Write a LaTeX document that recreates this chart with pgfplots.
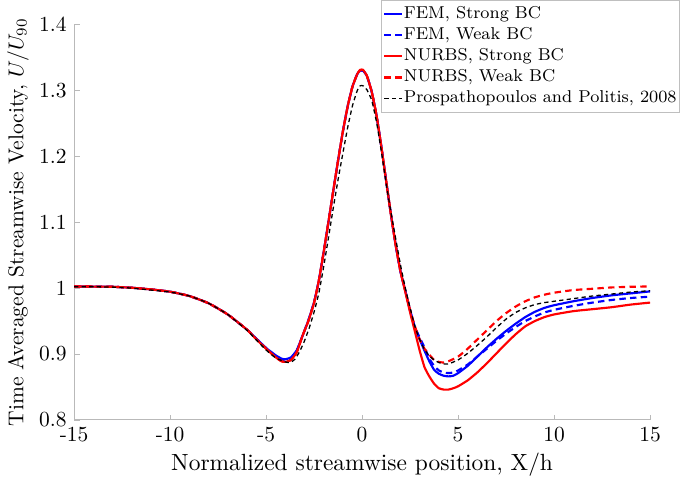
\documentclass[border=0pt]{standalone}
\usepackage{pgfplots}
\pgfplotsset{compat=1.18}

\begin{document}
\begin{tikzpicture}
\begin{axis}[
    scale only axis,
    width=268pt, height=184pt,
    xmin=-15, xmax=15, ymin=0.8, ymax=1.4,
    axis lines=left,
    axis line style={-, gray!55},
    tick style={gray!55},
    tick align=inside,
    major tick length=2.5pt,
    xtick={-15,-10,...,15},
    xticklabels={-15,-10,-5,0,5,10,15},
    ytick={0.8,0.9,...,1.41},
    yticklabels={0.8,0.9,1,1.1,1.2,1.3,1.4},
    xlabel={Normalized streamwise position, X/h},
    ylabel={Time Averaged Streamwise Velocity, $U/U_{90}$},
    xlabel style={font=\fontsize{10.9}{12}\selectfont, yshift=2pt},
    ylabel style={yshift=-2pt},
    legend style={at={(1.052,1.062)}, anchor=north east, draw=gray!50,
        cells={anchor=west}, inner sep=0.8pt, row sep=-1.3pt,
        nodes={inner xsep=0.6pt},
        font=\fontsize{8.0}{9.3}\selectfont},
    legend image code/.code={\draw[#1] (0cm,0cm) -- (0.28cm,0cm);},
]
% FEM, Strong BC
\addplot[blue, line width=1pt, smooth, tension=0.3] coordinates {
(-15,1.0025) (-14,1.0023) (-13,1.002) (-12,1.0005) (-11,0.998) (-10,0.9945)
(-9,0.988) (-8,0.977) (-7,0.960) (-6,0.937) (-5.5,0.923) (-5,0.909)
(-4.5,0.898) (-4.2,0.893) (-4,0.892) (-3.7,0.895) (-3.4,0.906) (-3.1,0.928)
(-2.8,0.951) (-2.5,0.979) (-2.25,1.012) (-2,1.055) (-1.75,1.101) (-1.5,1.148)
(-1.25,1.194) (-1,1.238) (-0.75,1.276) (-0.5,1.306) (-0.25,1.325) (-0.1,1.330)
(0.05,1.330) (0.25,1.322) (0.5,1.298) (0.75,1.262) (1,1.215) (1.25,1.163)
(1.5,1.112) (1.75,1.065) (2,1.025) (2.25,0.996) (2.5,0.966) (2.75,0.940)
(3,0.922) (3.25,0.905) (3.5,0.889) (3.75,0.876) (4,0.870) (4.25,0.867)
(4.5,0.866) (4.75,0.867) (5,0.871) (5.5,0.882) (6,0.896) (6.5,0.910)
(7,0.923) (7.5,0.935) (8,0.946) (8.5,0.956) (9,0.964) (9.5,0.970)
(10,0.974) (11,0.980) (12,0.985) (13,0.989) (14,0.992) (15,0.995)
};
% FEM, Weak BC
\addplot[blue, line width=1pt, dash pattern=on 3pt off 2pt, smooth, tension=0.3] coordinates {
(-15,1.0025) (-14,1.0023) (-13,1.002) (-12,1.0005) (-11,0.998) (-10,0.9945)
(-9,0.988) (-8,0.977) (-7,0.960) (-6,0.937) (-5.5,0.923) (-5,0.909)
(-4.5,0.897) (-4.2,0.892) (-4,0.891) (-3.7,0.894) (-3.4,0.905) (-3.1,0.928)
(-2.8,0.951) (-2.5,0.979) (-2.25,1.012) (-2,1.055) (-1.75,1.101) (-1.5,1.148)
(-1.25,1.194) (-1,1.238) (-0.75,1.276) (-0.5,1.306) (-0.25,1.325) (-0.1,1.330)
(0.05,1.330) (0.25,1.322) (0.5,1.298) (0.75,1.262) (1,1.215) (1.25,1.163)
(1.5,1.112) (1.75,1.065) (2,1.025) (2.25,0.996) (2.5,0.966) (2.75,0.941)
(3,0.925) (3.25,0.910) (3.5,0.893) (3.75,0.882) (4,0.875) (4.25,0.872)
(4.5,0.871) (4.75,0.872) (5,0.875) (5.5,0.884) (6,0.896) (6.5,0.908)
(7,0.920) (7.5,0.931) (8,0.941) (8.5,0.950) (9,0.957) (9.5,0.963)
(10,0.967) (11,0.973) (12,0.978) (13,0.982) (14,0.985) (15,0.987)
};
% NURBS, Strong BC
\addplot[red, line width=1pt, smooth, tension=0.3] coordinates {
(-15,1.0025) (-14,1.0023) (-13,1.002) (-12,1.0005) (-11,0.998) (-10,0.9945)
(-9,0.988) (-8,0.977) (-7,0.960) (-6,0.937) (-5.5,0.922) (-5,0.908)
(-4.5,0.895) (-4.2,0.889) (-4,0.888) (-3.7,0.891) (-3.4,0.903) (-3.1,0.928)
(-2.8,0.950) (-2.5,0.978) (-2.25,1.012) (-2,1.055) (-1.75,1.101) (-1.5,1.148)
(-1.25,1.194) (-1,1.238) (-0.75,1.276) (-0.5,1.306) (-0.25,1.325) (-0.1,1.331)
(0.05,1.331) (0.25,1.322) (0.5,1.298) (0.75,1.262) (1,1.215) (1.25,1.163)
(1.5,1.112) (1.75,1.065) (2,1.025) (2.25,0.994) (2.5,0.963) (2.75,0.934)
(3,0.905) (3.25,0.880) (3.5,0.866) (3.75,0.855) (4,0.848) (4.25,0.846)
(4.5,0.846) (4.75,0.848) (5,0.851) (5.5,0.860) (6,0.872) (6.5,0.886)
(7,0.901) (7.5,0.916) (8,0.930) (8.5,0.942) (9,0.950) (9.5,0.956)
(10,0.960) (11,0.965) (12,0.968) (13,0.971) (14,0.975) (15,0.978)
};
% NURBS, Weak BC
\addplot[red, line width=1pt, dash pattern=on 3pt off 2pt, smooth, tension=0.3] coordinates {
(-15,1.0025) (-14,1.0023) (-13,1.002) (-12,1.0005) (-11,0.998) (-10,0.9945)
(-9,0.988) (-8,0.977) (-7,0.960) (-6,0.937) (-5.5,0.922) (-5,0.908)
(-4.5,0.895) (-4.2,0.889) (-4,0.888) (-3.7,0.891) (-3.4,0.903) (-3.1,0.928)
(-2.8,0.950) (-2.5,0.978) (-2.25,1.012) (-2,1.055) (-1.75,1.101) (-1.5,1.148)
(-1.25,1.194) (-1,1.238) (-0.75,1.276) (-0.5,1.306) (-0.25,1.325) (-0.1,1.331)
(0.05,1.331) (0.25,1.322) (0.5,1.298) (0.75,1.262) (1,1.215) (1.25,1.163)
(1.5,1.112) (1.75,1.065) (2,1.025) (2.25,0.996) (2.5,0.967) (2.75,0.942)
(3,0.922) (3.25,0.908) (3.5,0.899) (3.75,0.891) (4,0.888) (4.25,0.887)
(4.5,0.889) (5,0.896) (5.5,0.908) (6,0.922) (6.5,0.936) (7,0.950)
(7.5,0.962) (8,0.972) (8.5,0.980) (9,0.986) (9.5,0.990) (10,0.993)
(11,0.997) (12,0.999) (13,1.001) (14,1.002) (15,1.0025)
};
% Prospathopoulos and Politis, 2008
\addplot[black, line width=0.6pt, dash pattern=on 2pt off 1.5pt, smooth, tension=0.3] coordinates {
(-15,1.002) (-14,1.002) (-13,1.0015) (-12,1.0) (-11,0.997) (-10,0.994)
(-9,0.988) (-8,0.977) (-7,0.960) (-6,0.936) (-5.5,0.921) (-5,0.906)
(-4.5,0.894) (-4,0.888) (-3.75,0.887) (-3.5,0.892) (-3.25,0.904) (-3,0.920)
(-2.75,0.940) (-2.5,0.964) (-2.25,0.993) (-2,1.033) (-1.75,1.077) (-1.5,1.122)
(-1.25,1.165) (-1,1.205) (-0.75,1.244) (-0.5,1.277) (-0.25,1.300) (-0.1,1.307)
(0.05,1.307) (0.25,1.301) (0.5,1.285) (0.75,1.252) (1,1.208) (1.25,1.160)
(1.5,1.115) (1.75,1.075) (2,1.035) (2.25,1.000) (2.5,0.970) (2.75,0.942)
(3,0.922) (3.25,0.907) (3.5,0.897) (3.75,0.891) (4,0.887) (4.25,0.885)
(4.5,0.885) (5,0.891) (5.5,0.901) (6,0.913) (6.5,0.926) (7,0.940)
(7.5,0.953) (8,0.963) (8.5,0.970) (9,0.975) (9.5,0.978) (10,0.980)
(11,0.984) (12,0.988) (13,0.991) (14,0.994) (15,0.996)
};
\legend{FEM{,} Strong BC, FEM{,} Weak BC, NURBS{,} Strong BC, NURBS{,} Weak BC, Prospathopoulos and Politis{,} 2008}
\end{axis}
\end{tikzpicture}
\end{document}
